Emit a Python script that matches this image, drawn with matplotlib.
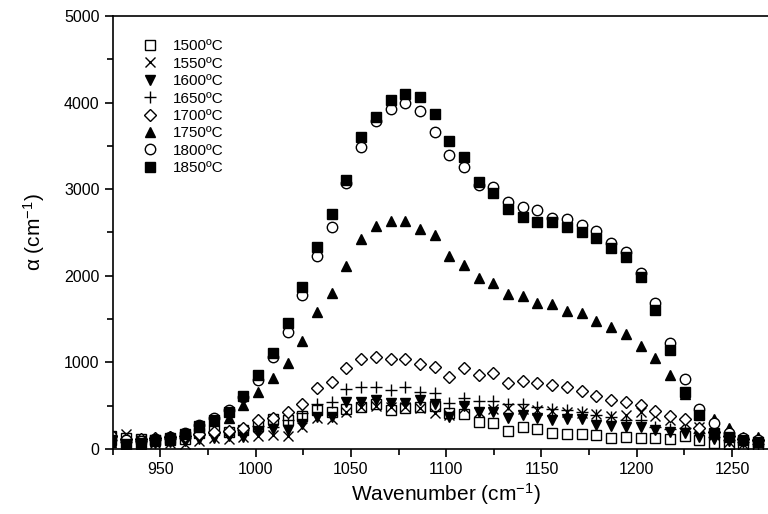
import matplotlib
matplotlib.use("Agg")
import matplotlib.pyplot as plt
from matplotlib.ticker import MultipleLocator

plt.rcParams["font.family"] = ["Liberation Sans", "DejaVu Sans"]
plt.rcParams["mathtext.fontset"] = "custom"
plt.rcParams["mathtext.rm"] = "Liberation Sans"
plt.rcParams["mathtext.default"] = "regular"

# wavenumber grid (cm-1)
wavenumber = [924.2, 931.9, 939.6, 947.3, 955.1, 962.8, 970.5, 978.2, 985.9, 993.6,
              1001.4, 1009.1, 1016.8, 1024.5, 1032.2, 1039.9, 1047.6, 1055.4, 1063.1, 1070.8,
              1078.5, 1086.2, 1093.9, 1101.7, 1109.4, 1117.1, 1124.8, 1132.5, 1140.2, 1147.9,
              1155.7, 1163.4, 1171.1, 1178.8, 1186.5, 1194.2, 1202.0, 1209.7, 1217.4, 1225.1,
              1232.8, 1240.5, 1248.2, 1256.0, 1263.7]

# absorption coefficient (cm-1) per annealing temperature
a1500 = [150, 123, 115, 104, 100, 115, 181, 219, 193, 219,
         269, 346, 335, 385, 450, 423, 462, 489, 515, 450,
         470, 489, 497, 412, 404, 316, 304, 208, 250, 231,
         181, 170, 170, 162, 123, 142, 123, 123, 112, 150,
         100, 70, 60, 50, 50]
a1550 = [150, 170, 100, 70, 66, 54, 90, 123, 115, 135,
         150, 162, 150, 250, 360, 350, 430, 480, 500, 480,
         490, 470, 420, 390, 470, 430, 460, 470, 460, 450,
         440, 430, 420, 400, 380, 393, 431, 380, 330, 300,
         258, 160, 85, 60, 70]
a1600 = [60, 50, 50, 70, 80, 90, 120, 127, 150, 139,
         200, 231, 219, 289, 366, 366, 543, 546, 566, 527,
         527, 566, 520, 366, 497, 431, 431, 354, 393, 354,
         335, 343, 343, 277, 269, 258, 258, 219, 200, 180,
         135, 120, 90, 80, 80]
a1650 = [100, 80, 90, 100, 110, 130, 160, 180, 200, 220,
         260, 250, 330, 420, 520, 539, 693, 712, 720, 681,
         712, 662, 642, 535, 585, 558, 558, 520, 520, 481,
         458, 450, 431, 393, 366, 340, 335, 250, 227, 239,
         180, 140, 100, 80, 60]
a1700 = [150, 120, 120, 130, 140, 150, 170, 200, 208, 245,
         335, 354, 431, 514, 700, 777, 932, 1036, 1066, 1036,
         1036, 981, 950, 835, 932, 855, 876, 758, 789, 766,
         739, 712, 673, 612, 570, 546, 508, 442, 381, 343,
         242, 200, 150, 120, 100]
a1750 = [80, 50, 60, 90, 120, 181, 250, 320, 354, 510,
         662, 816, 990, 1250, 1578, 1805, 2111, 2421, 2575, 2636,
         2636, 2537, 2471, 2225, 2121, 1971, 1913, 1790, 1767, 1682,
         1671, 1597, 1567, 1481, 1405, 1332, 1189, 1047, 855, 635,
         420, 343, 239, 135, 142]
a1800 = [150, 100, 90, 110, 140, 180, 280, 360, 450, 600,
         797, 1066, 1354, 1778, 2229, 2560, 3068, 3484, 3791, 3922,
         3999, 3906, 3664, 3395, 3252, 3048, 3022, 2856, 2791, 2756,
         2664, 2652, 2587, 2517, 2375, 2278, 2036, 1682, 1220, 805,
         462, 300, 185, 130, 100]
a1850 = [100, 55, 66, 100, 130, 170, 270, 340, 431, 612,
         855, 1112, 1460, 1874, 2330, 2717, 3110, 3597, 3837, 4030,
         4095, 4060, 3864, 3556, 3368, 3080, 2952, 2768, 2683, 2625,
         2625, 2560, 2509, 2433, 2317, 2213, 1983, 1605, 1140, 662,
         393, 190, 140, 100, 80]

series = [
    ("1500ºC", a1500, dict(marker="s", mfc="white", mec="black", ms=6.5)),
    ("1550ºC", a1550, dict(marker="x", color="black", ms=7.5)),
    ("1600ºC", a1600, dict(marker="v", color="black", ms=7.5)),
    ("1650ºC", a1650, dict(marker="+", color="black", ms=8.5)),
    ("1700ºC", a1700, dict(marker="D", mfc="white", mec="black", ms=6.5)),
    ("1750ºC", a1750, dict(marker="^", color="black", ms=7.5)),
    ("1800ºC", a1800, dict(marker="o", mfc="white", mec="black", ms=7.5)),
    ("1850ºC", a1850, dict(marker="s", color="black", ms=6.5)),
]

fig = plt.figure(figsize=(7.68, 5.14), dpi=100)
# axes run past the right edge of the canvas, as in the original crop
ax = fig.add_axes([112.7 / 768, 65 / 514, 667 / 768, 433 / 514])

for label, vals, style in series:
    ax.plot(wavenumber, vals, linestyle="none", label=label, mew=1.0, **style)

ax.set_xlim(925, 1275)
ax.set_ylim(0, 5000)
ax.xaxis.set_major_locator(MultipleLocator(50))
ax.xaxis.set_minor_locator(MultipleLocator(25))
ax.yaxis.set_major_locator(MultipleLocator(1000))
ax.yaxis.set_minor_locator(MultipleLocator(500))
ax.tick_params(which="both", direction="out", top=False, right=False,
               labelsize=11.5, width=1.2)
ax.tick_params(which="major", length=6)
ax.tick_params(which="minor", length=4)
for sp in ax.spines.values():
    sp.set_linewidth(1.2)

ax.set_xlabel("Wavenumber (cm$^{-1}$)", fontsize=15, labelpad=3)
ax.set_ylabel("α (cm$^{-1}$)", fontsize=15, labelpad=12)

ax.legend(loc="upper left", bbox_to_anchor=(0.033, 0.96), frameon=False,
          fontsize=11, handletextpad=0.9, labelspacing=0.22,
          handlelength=1.2, borderaxespad=0)

fig.savefig("out.png", dpi=100)
